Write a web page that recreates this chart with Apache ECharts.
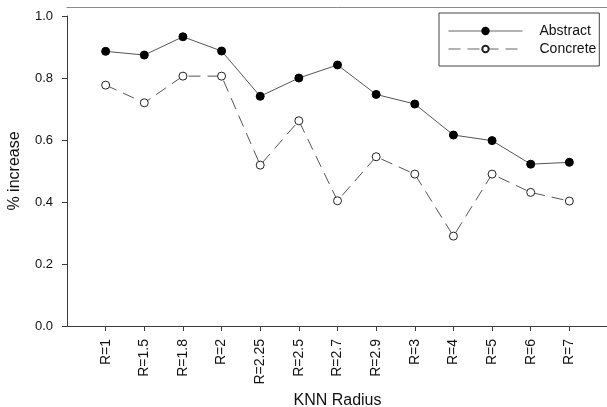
<!DOCTYPE html>
<html>
<head>
<meta charset="utf-8">
<script src="https://cdn.jsdelivr.net/npm/echarts@6/dist/echarts.min.js"></script>
<style>
  html, body { margin: 0; padding: 0; background: #fff; }
  #chart { width: 607px; height: 407px; }
</style>
</head>
<body>
<div id="chart"></div>
<script>
// KNN radius settings along the x axis
const categories = ['R=1', 'R=1.5', 'R=1.8', 'R=2', 'R=2.25', 'R=2.5', 'R=2.7',
                    'R=2.9', 'R=3', 'R=4', 'R=5', 'R=6', 'R=7'];
// % increase for each word type
const abstractValues = [0.886, 0.874, 0.933, 0.887, 0.741, 0.800, 0.842,
                        0.747, 0.716, 0.616, 0.598, 0.522, 0.528];
const concreteValues = [0.777, 0.720, 0.806, 0.806, 0.519, 0.662, 0.404,
                        0.546, 0.490, 0.290, 0.490, 0.431, 0.403];
const yTicks = [0, 0.2, 0.4, 0.6, 0.8, 1.0];

const positions = categories.map((c, i) => i + 1);
const toPairs = vals => vals.map((v, i) => [positions[i], v]);

const font = 'Arial, "Liberation Sans", sans-serif';
const chart = echarts.init(document.getElementById('chart'), null, { renderer: 'canvas' });

chart.setOption({
  animation: false,
  backgroundColor: '#ffffff',
  grid: { left: 67, right: -1, top: 16, bottom: 81, containLabel: false, outerBoundsMode: 'none' },
  xAxis: [{
    type: 'value',
    min: 0,
    max: categories.length + 1,
    interval: 1,
    name: 'KNN Radius',
    nameLocation: 'middle',
    nameGap: 66,
    nameTextStyle: { fontFamily: font, fontSize: 16, color: '#111' },
    splitLine: { show: false },
    axisLine: { lineStyle: { color: '#3a3a3a', width: 1 } },
    axisTick: { show: true, length: 5, customValues: positions,
                lineStyle: { color: '#3a3a3a' } },
    axisLabel: {
      customValues: positions,
      rotate: 90,
      margin: 13,
      fontFamily: font,
      fontSize: 14,
      color: '#111',
      formatter: v => categories[v - 1] || ''
    }
  }, {
    type: 'value',
    position: 'top',
    offset: 9,
    min: 0,
    max: categories.length + 1,
    splitLine: { show: false },
    axisLine: { show: true, lineStyle: { color: '#8a8a8a', width: 1 } },
    axisTick: { show: false },
    axisLabel: { show: false }
  }],
  yAxis: {
    type: 'value',
    min: yTicks[0],
    max: yTicks[yTicks.length - 1],
    interval: 0.2,
    name: '% increase',
    nameLocation: 'middle',
    nameGap: 44,
    nameTextStyle: { fontFamily: font, fontSize: 16, color: '#111' },
    splitLine: { show: false },
    axisLine: { show: true, lineStyle: { color: '#3a3a3a', width: 1 } },
    axisTick: { show: true, length: 5, lineStyle: { color: '#3a3a3a' } },
    axisLabel: {
      margin: 14,
      fontFamily: font,
      fontSize: 13,
      color: '#111',
      formatter: v => v.toFixed(1)
    }
  },
  legend: {
    orient: 'vertical',
    left: 439,
    top: 13,
    width: 158,
    padding: [11, 3, 10, 9],
    itemGap: 4,
    itemWidth: 74,
    itemHeight: 8,
    borderColor: '#444',
    borderWidth: 1,
    backgroundColor: '#fff',
    lineStyle: { width: 1, color: '#666' },
    textStyle: { fontFamily: font, fontSize: 14, color: '#111', padding: [0, 0, 0, 12] },
    data: ['Abstract', 'Concrete']
  },
  series: [{
    name: 'Abstract',
    type: 'line',
    xAxisIndex: 0,
    data: toPairs(abstractValues),
    symbol: 'circle',
    symbolSize: 8,
    itemStyle: { color: '#000', borderColor: '#000', borderWidth: 1 },
    lineStyle: { color: '#555', width: 1 },
    z: 3
  }, {
    name: 'Concrete',
    type: 'line',
    xAxisIndex: 0,
    data: toPairs(concreteValues),
    symbol: 'circle',
    symbolSize: 8,
    itemStyle: { color: '#fff', borderColor: '#222', borderWidth: 1 },
    lineStyle: { color: '#555', width: 1, type: [12, 7] },
    z: 2
  }]
});
</script>
</body>
</html>
